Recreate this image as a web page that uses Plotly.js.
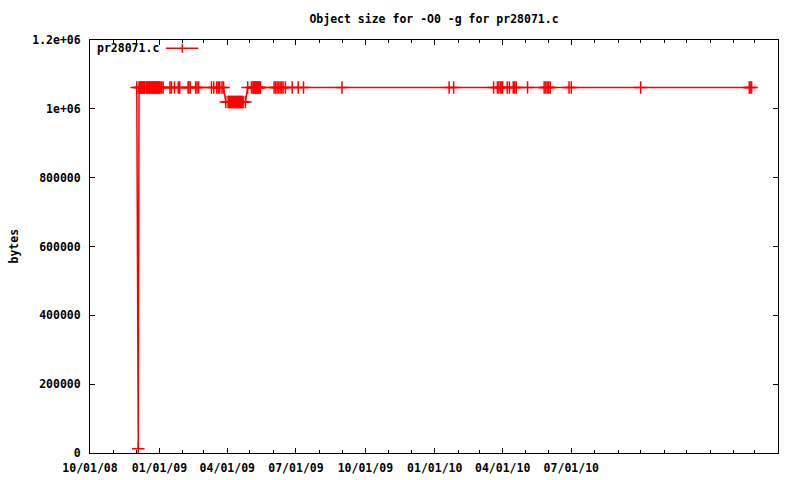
<!DOCTYPE html>
<html>
<head>
<meta charset="utf-8">
<script src="https://cdn.plot.ly/plotly-3.0.1.min.js"></script>
<style>
html,body{margin:0;padding:0;background:#fff;}
#chart{width:800px;height:480px;}
</style>
</head>
<body>
<div id="chart"></div>
<script>
// ---- data ----
const seriesName = "pr28071.c";
const chartTitle = "Object size for -O0 -g for pr28071.c";
const yLabel = "bytes";

const TOP = 1062000, DIP = 1020000, LOW = 12000;

const dates = [
  "2008-12-02","2008-12-04","2008-12-05","2008-12-06","2008-12-07","2008-12-08","2008-12-09",
  "2008-12-10","2008-12-11","2008-12-12","2008-12-13","2008-12-15","2008-12-16","2008-12-17",
  "2008-12-18","2008-12-19","2008-12-20","2008-12-21","2008-12-22","2008-12-23","2008-12-24",
  "2008-12-25","2008-12-26","2008-12-27","2008-12-28","2008-12-29","2008-12-30","2008-12-31",
  "2009-01-01","2009-01-02","2009-01-04","2009-01-06","2009-01-15","2009-01-17","2009-01-21",
  "2009-01-26","2009-01-28","2009-02-08","2009-02-09","2009-02-11","2009-02-18","2009-02-20",
  "2009-02-22","2009-03-11","2009-03-14","2009-03-18","2009-03-20","2009-03-22","2009-03-25",
  "2009-03-27",
  "2009-03-30","2009-04-02","2009-04-03","2009-04-04","2009-04-05","2009-04-06","2009-04-07",
  "2009-04-08","2009-04-09","2009-04-10","2009-04-11","2009-04-12","2009-04-13","2009-04-14",
  "2009-04-15","2009-04-16","2009-04-17","2009-04-18","2009-04-19","2009-04-20","2009-04-21",
  "2009-04-22","2009-04-25",
  "2009-04-28","2009-05-03","2009-05-05","2009-05-06","2009-05-07","2009-05-08","2009-05-09",
  "2009-05-10","2009-05-11","2009-05-12","2009-05-13","2009-05-14","2009-05-15",
  "2009-06-02","2009-06-04","2009-06-06","2009-06-08","2009-06-10","2009-06-12","2009-06-14",
  "2009-06-17","2009-06-26","2009-07-04","2009-07-11","2009-08-31",
  "2010-01-20","2010-01-26","2010-03-20","2010-03-25","2010-03-27","2010-03-29","2010-03-31",
  "2010-04-01","2010-04-07","2010-04-10","2010-04-15","2010-04-17","2010-04-19","2010-05-04",
  "2010-05-26","2010-05-28","2010-05-30","2010-06-01","2010-06-03","2010-06-28","2010-07-01",
  "2010-10-01","2011-02-22","2011-02-23","2011-02-25"
];

const sizes = [
  TOP, LOW, TOP, TOP, TOP, TOP, TOP,
  TOP, TOP, TOP, TOP, TOP, TOP, TOP,
  TOP, TOP, TOP, TOP, TOP, TOP, TOP,
  TOP, TOP, TOP, TOP, TOP, TOP, TOP,
  TOP, TOP, TOP, TOP, TOP, TOP, TOP,
  TOP, TOP, TOP, TOP, TOP, TOP, TOP,
  TOP, TOP, TOP, TOP, TOP, TOP, TOP,
  TOP,
  DIP, DIP, DIP, DIP, DIP, DIP, DIP,
  DIP, DIP, DIP, DIP, DIP, DIP, DIP,
  DIP, DIP, DIP, DIP, DIP, DIP, DIP,
  DIP, DIP,
  TOP, TOP, TOP, TOP, TOP, TOP, TOP,
  TOP, TOP, TOP, TOP, TOP, TOP,
  TOP, TOP, TOP, TOP, TOP, TOP, TOP,
  TOP, TOP, TOP, TOP, TOP,
  TOP, TOP, TOP, TOP, TOP, TOP, TOP,
  TOP, TOP, TOP, TOP, TOP, TOP, TOP,
  TOP, TOP, TOP, TOP, TOP, TOP, TOP,
  TOP, TOP, TOP, TOP
];

const xTickVals = ["2008-10-01","2009-01-01","2009-04-01","2009-07-01","2009-10-01","2010-01-01","2010-04-01","2010-07-01"];
const xTickText = ["10/01/08","01/01/09","04/01/09","07/01/09","10/01/09","01/01/10","04/01/10","07/01/10"];
const xRange = ["2008-10-01","2011-04-01"];

const yTickVals = [0, 200000, 400000, 600000, 800000, 1000000, 1200000];
const yTickText = ["0","200000","400000","600000","800000","1e+06","1.2e+06"];
const yRange = [0, 1200000];

// ---- chart ----
const FONT = {family: "'DejaVu Sans Mono', 'Liberation Mono', monospace", size: 11.5, color: "#000", weight: "bold"};
const RED = "#ff0000";

const trace = {
  x: dates, y: sizes, type: "scatter", mode: "lines+markers", name: seriesName,
  line: {color: RED, width: 1.5},
  marker: {symbol: "cross-thin-open", size: 9, color: RED, line: {color: RED, width: 1.5}},
  showlegend: false
};

const layout = {
  width: 800, height: 480,
  paper_bgcolor: "#fff", plot_bgcolor: "#fff",
  margin: {l: 90, r: 22, t: 40, b: 27},
  font: FONT,
  title: {text: chartTitle, font: FONT, x: 0.5, xref: "paper", y: 1 - 19/480, yref: "container", yanchor: "middle"},
  xaxis: {
    type: "date", range: xRange, tickmode: "array", tickvals: xTickVals, ticktext: xTickText,
    ticks: "inside", ticklen: 5, tickwidth: 1, tickcolor: "#000",
    showline: true, linecolor: "#000", linewidth: 1, mirror: "ticks",
    showgrid: false, zeroline: false, tickfont: FONT, ticklabelstandoff: 4,
    minor: {dtick: "M1", tick0: "2008-10-01", ticks: "inside", ticklen: 3, tickcolor: "#000", showgrid: false}
  },
  yaxis: {
    range: yRange, tickmode: "array", tickvals: yTickVals, ticktext: yTickText,
    ticks: "inside", ticklen: 5, tickwidth: 1, tickcolor: "#000",
    showline: true, linecolor: "#000", linewidth: 1, mirror: "ticks",
    showgrid: false, zeroline: false, tickfont: FONT, ticklabelstandoff: 6
  },
  annotations: [
    {text: yLabel, xref: "paper", yref: "paper", x: (13 - 90) / 688, y: 0.5, textangle: -90,
     showarrow: false, font: FONT, xanchor: "center", yanchor: "middle"},
    {text: seriesName, xref: "paper", yref: "paper", x: 5 / 688, y: (453 - 48) / 413,
     showarrow: false, font: FONT, xanchor: "left", yanchor: "middle"}
  ],
  shapes: [
    {type: "line", xref: "paper", yref: "paper", x0: 76 / 688, x1: 108.3 / 688,
     y0: (453 - 48.3) / 413, y1: (453 - 48.3) / 413, line: {color: RED, width: 1.5}},
    {type: "line", xref: "paper", yref: "paper", x0: 92.3 / 688, x1: 92.3 / 688,
     y0: (453 - 52.8) / 413, y1: (453 - 43.8) / 413, line: {color: RED, width: 1.5}}
  ]
};

Plotly.newPlot("chart", [trace], layout, {displayModeBar: false, staticPlot: true});
</script>
</body>
</html>
